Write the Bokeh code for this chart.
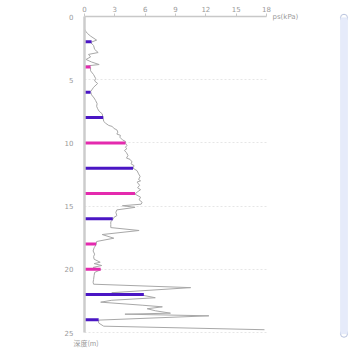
from bokeh.plotting import figure
from bokeh.models import Range1d, FixedTicker, Label, BoxAnnotation, ColumnDataSource
from bokeh.embed import file_html
from bokeh.resources import INLINE

# ---- data ----
ps_depth = [1.00, 1.15, 1.35, 1.55, 1.87, 2.05, 2.30, 2.60, 2.85, 3.00, 3.20, 3.40, 3.60, 3.80, 3.92,
            4.05, 4.30, 4.60, 4.90, 5.10, 5.30, 5.60, 5.95, 6.20, 6.45, 6.65, 6.90, 7.10, 7.30, 7.50,
            7.70, 7.90, 8.07, 8.30, 8.45, 8.62, 8.70, 8.85, 8.97, 9.15, 9.30, 9.40, 9.55, 9.76, 9.88,
            10.02, 10.20, 10.35, 10.45, 10.60, 10.77, 11.00, 11.20, 11.30, 11.50, 11.65, 11.80, 12.00,
            12.20, 12.45, 12.65, 12.90, 13.00, 13.10, 13.35, 13.55, 13.70, 13.90, 14.05, 14.30, 14.50,
            14.70, 14.85, 14.97, 15.10, 15.30, 15.50, 15.75, 15.90, 16.05, 16.25, 16.45, 16.70, 16.93,
            17.25, 17.54, 17.80, 18.05, 18.30, 18.55, 18.80, 19.00, 19.20, 19.44, 19.55, 19.70, 19.85,
            20.03, 20.25, 20.50, 20.80, 21.02, 21.18, 21.45, 21.85, 21.95, 22.07, 22.25, 22.45, 22.60,
            22.84, 22.97, 23.12, 23.28, 23.47, 23.55, 23.68, 24.02, 24.25, 24.50, 24.78]
ps_value = [0.0, 0.1, 0.3, 0.6, 1.2, 0.6, 0.9, 1.0, 1.35, 0.4, 0.6, 0.15, 0.7, 1.45, 0.1,
            0.6, 0.6, 0.9, 1.1, 1.0, 1.3, 0.9, 0.6, 0.7, 0.95, 1.1, 1.25, 1.2, 1.3, 1.45,
            1.75, 1.8, 1.85, 1.9, 2.1, 2.4, 2.75, 2.9, 3.2, 3.3, 3.2, 3.55, 3.5, 3.75, 4.05,
            4.05, 4.2, 4.05, 4.2, 3.95, 4.15, 4.3, 4.15, 4.5, 4.7, 4.6, 4.9, 4.8,
            5.2, 5.35, 5.5, 5.35, 5.55, 5.2, 5.45, 5.25, 5.55, 5.2, 5.0, 5.55, 5.4,
            5.7, 5.6, 3.75, 5.0, 3.2, 3.1, 3.2, 2.9, 2.8, 2.6, 2.6, 2.6, 5.4,
            1.75, 2.9, 1.2, 1.15, 0.95, 0.85, 1.0, 0.9, 0.95, 1.55, 0.95, 1.7, 0.85,
            1.6, 1.0, 0.95, 0.9, 0.85, 0.9, 10.5, 2.7, 4.5, 5.87, 7.0, 2.7, 1.6,
            5.7, 7.7, 6.2, 7.0, 8.5, 4.0, 12.3, 1.4, 1.4, 1.9, 17.8]

bar_depth = [2, 4, 6, 8, 10, 12, 14, 16, 18, 20, 22, 24]
bar_value = [0.7, 0.6, 0.6, 1.85, 4.05, 4.8, 5.0, 2.8, 1.15, 1.6, 5.87, 1.4]
bar_kind = ["b", "m", "b", "b", "m", "b", "m", "b", "m", "m", "b", "b"]

x_ticks = [0, 3, 6, 9, 12, 15, 18]
y_ticks = [0, 5, 10, 15, 20, 25]
x_title = "ps(kPa)"
y_title = "深度(m)"

# ---- styling / layout ----
W, H = 350, 350
LEFT, TOP = 84, 16          # pixel position of the (0, 0) origin
X_PX = 182 / 18.0           # px per kPa
Y_PX = 316 / 25.0           # px per m
colors = {"b": "#4a16c4", "m": "#e42aae"}
GRAY = "#9a9a9a"
FONT = "DejaVu Sans"

p = figure(width=W, height=H,
           x_range=Range1d(-LEFT / X_PX, (W - LEFT) / X_PX),
           y_range=Range1d((H - TOP) / Y_PX, -TOP / Y_PX),
           x_axis_location="above", output_backend="svg", toolbar_location=None,
           min_border=0, min_border_left=0, min_border_top=0,
           min_border_right=0, min_border_bottom=0)
p.outline_line_color = None
p.background_fill_color = "white"
p.border_fill_color = "white"

xa = p.xaxis[0]
xa.fixed_location = 0
xa.ticker = FixedTicker(ticks=x_ticks)
xa.bounds = (x_ticks[0], x_ticks[-1])
xa.axis_line_color = "#c8c8c8"
xa.axis_line_width = 1.5
xa.major_tick_line_color = "#c8c8c8"
xa.major_tick_out = 3
xa.major_tick_in = 0
xa.minor_tick_line_color = None
xa.major_label_text_font_size = "7px"
xa.major_label_text_color = GRAY
xa.major_label_text_font = FONT
xa.major_label_standoff = 2

ya = p.yaxis[0]
ya.fixed_location = 0
ya.ticker = FixedTicker(ticks=y_ticks)
ya.bounds = (y_ticks[0], y_ticks[-1])
ya.axis_line_color = "#cccccc"
ya.axis_line_width = 2.5
ya.major_tick_line_color = None
ya.minor_tick_line_color = None
ya.major_label_text_font_size = "7px"
ya.major_label_text_color = GRAY
ya.major_label_text_font = FONT
ya.major_label_standoff = 5

p.xgrid.visible = False
yg = p.ygrid[0]
yg.ticker = FixedTicker(ticks=y_ticks[1:])
yg.bounds = (y_ticks[1], y_ticks[-1])
yg.cross_bounds = (x_ticks[0], x_ticks[-1])
yg.grid_line_color = "#e6e6e6"
yg.grid_line_dash = "2 2"
yg.grid_line_width = 1

p.line(ps_value, ps_depth, line_color="#a8a8a8", line_width=1)

src = ColumnDataSource(dict(x0=[0] * len(bar_depth), x1=bar_value, y=bar_depth,
                            c=[colors[k] for k in bar_kind]))
p.segment(x0="x0", y0="y", x1="x1", y1="y", source=src, line_color="c", line_width=3)

p.add_layout(Label(x=x_ticks[-1] + 6 / X_PX, y=0, text=x_title, text_font_size="7px",
                   text_color=GRAY, text_baseline="middle", text_font=FONT))
p.add_layout(Label(x=-11 / X_PX, y=y_ticks[-1] + 10 / Y_PX, text=y_title, text_font_size="7px",
                   text_color=GRAY, text_baseline="middle", text_font="Noto Sans CJK SC"))

# vertical data-zoom slider decoration on the right
sl_l = (340 - LEFT) / X_PX
sl_r = (347 - LEFT) / X_PX
p.add_layout(BoxAnnotation(left=sl_l, right=sl_r, top=0.1, bottom=25.1,
                           fill_color="#e6ebfa", fill_alpha=1, line_color="#d2daf2", line_width=1))
p.scatter([(sl_l + sl_r) / 2] * 2, [0.1, 25.1], marker="circle", size=7,
          fill_color="white", line_color="#b9c3de", line_width=1)

open("out.html", "w").write(file_html(p, INLINE))
